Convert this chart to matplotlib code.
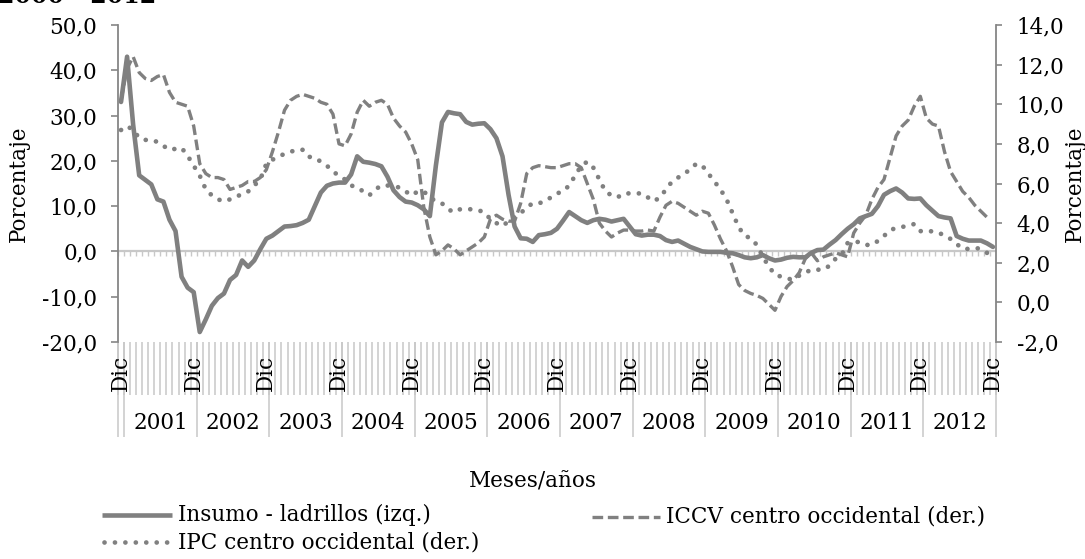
import numpy as np
import matplotlib
matplotlib.use('Agg')
import matplotlib.pyplot as plt
import matplotlib.transforms as mtransforms
from matplotlib.lines import Line2D
from matplotlib.ticker import FuncFormatter

plt.rcParams['font.family'] = ['DejaVu Serif']
FS = 15.5

# categorias: Dic 2000 y luego ene-dic 2001..2012
meses = ['Ene', 'Feb', 'Mar', 'Abr', 'May', 'Jun',
         'Jul', 'Ago', 'Sep', 'Oct', 'Nov', 'Dic']
anios = list(range(2001, 2013))
cat_mes = ['Dic'] + [m for a in anios for m in meses]

# Insumo - ladrillos (eje izq., %)
ladrillos = [33.0,
             43.0, 28.0, 16.8, 15.8, 14.8, 11.5, 11.0, 7.0, 4.5, -5.6, -8.0, -9.0,
             -17.8, -15.0, -12.0, -10.3, -9.3, -6.3, -5.2, -2.0, -3.4, -2.0, 0.5, 2.8,
             3.5, 4.5, 5.5, 5.6, 5.8, 6.3, 7.0, 10.0, 13.0, 14.5, 15.0, 15.2,
             15.2, 17.0, 21.0, 19.8, 19.6, 19.3, 18.8, 16.5, 13.5, 12.0, 11.0, 10.8,
             10.2, 9.3, 7.8, 19.0, 28.5, 30.8, 30.5, 30.3, 28.6, 28.0, 28.2, 28.3,
             27.0, 25.0, 21.0, 12.5, 5.5, 2.9, 2.8, 2.1, 3.6, 3.8, 4.1, 5.0,
             6.8, 8.7, 7.8, 6.9, 6.3, 6.9, 7.2, 7.0, 6.6, 6.9, 7.2, 5.5,
             3.8, 3.5, 3.7, 3.7, 3.4, 2.5, 2.1, 2.4, 1.7, 1.0, 0.5, 0.0,
             -0.1, -0.1, -0.1, -0.3, -0.4, -0.8, -1.3, -1.5, -1.3, -0.8, -1.5, -2.0,
             -1.8, -1.4, -1.2, -1.3, -1.3, -0.3, 0.3, 0.4, 1.5, 2.5, 3.8, 5.0,
             6.0, 7.3, 7.8, 8.3, 10.0, 12.5, 13.3, 13.9, 13.0, 11.7, 11.6, 11.7,
             10.2, 9.0, 7.8, 7.5, 7.3, 3.4, 2.8, 2.4, 2.4, 2.4, 1.8, 1.0]

# ICCV centro occidental (eje der., %)
iccv = [10.2,
        11.8, 12.4, 11.6, 11.3, 11.2, 11.4, 11.5, 10.6, 10.1, 10.0, 9.9, 8.9,
        7.0, 6.5, 6.3, 6.3, 6.2, 5.7, 5.8, 5.9, 6.1, 6.1, 6.3, 6.7,
        7.6, 8.6, 9.7, 10.2, 10.4, 10.5, 10.4, 10.3, 10.1, 10.0, 9.5, 8.0,
        7.9, 8.5, 9.6, 10.2, 9.9, 10.1, 10.2, 10.0, 9.3, 8.9, 8.6, 8.0,
        7.2, 4.8, 3.3, 2.4, 2.6, 2.9, 2.7, 2.4, 2.6, 2.8, 3.0, 3.3,
        4.2, 4.4, 4.2, 4.1, 4.1, 5.0, 6.5, 6.8, 6.9, 6.85, 6.8, 6.8,
        6.9, 7.0, 7.0, 6.8, 6.0, 5.2, 4.0, 3.6, 3.3, 3.5, 3.65, 3.65,
        3.6, 3.6, 3.65, 3.6, 4.3, 4.9, 5.1, 5.0, 4.8, 4.6, 4.4, 4.6,
        4.5, 3.9, 3.2, 2.6, 1.8, 0.9, 0.6, 0.45, 0.35, 0.2, -0.1, -0.4,
        0.3, 0.8, 1.1, 1.5, 2.2, 2.5, 2.1, 2.3, 2.4, 2.5, 2.4, 2.3,
        3.5, 4.0, 4.4, 5.2, 5.8, 6.2, 7.3, 8.4, 8.9, 9.2, 9.9, 10.4,
        9.3, 9.0, 8.9, 7.6, 6.6, 6.1, 5.6, 5.3, 4.9, 4.6, 4.3, np.nan]

# IPC centro occidental (eje der., %)
ipc = [8.7,
       8.9, 8.7, 8.3, 8.2, 8.2, 8.1, 7.9, 7.7, 7.75, 7.8, 7.4, 6.9,
       6.4, 5.7, 5.4, 5.2, 5.1, 5.2, 5.3, 5.5, 5.6, 5.9, 6.2, 7.0,
       7.2, 7.35, 7.5, 7.6, 7.7, 7.7, 7.35, 7.3, 7.1, 6.9, 6.6, 6.4,
       6.2, 5.9, 5.8, 5.6, 5.4, 5.7, 5.9, 5.9, 5.85, 5.8, 5.6, 5.4,
       5.6, 5.6, 5.3, 5.1, 5.0, 4.7, 4.55, 4.7, 4.7, 4.7, 4.65, 4.55,
       4.2, 4.0, 3.85, 4.1, 4.3, 4.5, 4.8, 5.0, 5.0, 5.1, 5.3, 5.5,
       5.6, 5.9, 6.4, 6.9, 7.1, 6.8, 6.2, 5.6, 5.4, 5.3, 5.5, 5.5,
       5.5, 5.5, 5.3, 5.1, 5.3, 5.7, 6.1, 6.3, 6.5, 6.7, 7.0, 6.9,
       6.5, 6.1, 5.7, 5.2, 4.5, 3.8, 3.35, 3.25, 2.9, 2.3, 1.8, 1.4,
       1.3, 1.2, 1.15, 1.35, 1.5, 1.65, 1.65, 1.65, 1.85, 2.2, 2.4, 3.0,
       3.05, 3.05, 2.9, 2.9, 3.1, 3.35, 3.65, 3.75, 3.8, 3.9, 3.95, 3.6,
       3.55, 3.6, 3.5, 3.4, 3.2, 2.95, 2.7, 2.7, 2.75, 2.7, 2.5, 2.4]

gris = '#808080'
eje = '#868686'
claro = '#c8c8c8'
W, H = 1085, 559
punteado = (0, (0.01, 2.2))

fig = plt.figure(figsize=(W / 100, H / 100), dpi=100)
ax = fig.add_axes([118 / W, 1 - 342 / H, (996 - 118) / W, (342 - 25) / H])
ax2 = ax.twinx()

x = np.arange(len(cat_mes))
lab = FuncFormatter(lambda v, p: f'{v:.1f}'.replace('.', ','))

ax.plot(x, ladrillos, color=gris, lw=3.3, solid_joinstyle='round',
        solid_capstyle='round', zorder=3)
ax2.plot(x, iccv, color=gris, lw=2.4, linestyle=(0, (3.2, 1.4)))
ax2.plot(x, ipc, color=gris, lw=3.4, linestyle=punteado,
         dash_capstyle='round')

ax.set_xlim(-0.5, len(x) - 0.5)
ax.set_ylim(-20, 50)
ax2.set_ylim(-2, 14)
ax.set_yticks(np.arange(-20, 51, 10))
ax2.set_yticks(np.arange(-2, 15, 2))
ax.yaxis.set_major_formatter(lab)
ax2.yaxis.set_major_formatter(lab)
ax.set_xticks([])
ax2.set_xticks([])

for s in ['top', 'bottom', 'right']:
    ax.spines[s].set_visible(False)
for s in ['top', 'bottom', 'left']:
    ax2.spines[s].set_visible(False)
ax.spines['left'].set_color(eje)
ax2.spines['right'].set_color(eje)
ax.spines['left'].set_linewidth(1.3)
ax2.spines['right'].set_linewidth(1.3)
ax.tick_params(axis='y', direction='out', length=5, width=1.2, color=eje,
               pad=10, labelsize=FS)
ax2.tick_params(axis='y', direction='out', length=4, width=1.2, color=eje,
                pad=11, labelsize=FS)

# eje de categorias cruzando en 0
bordes = np.arange(len(x) + 1) - 0.5
ax.axhline(0, color=claro, lw=1.6, zorder=1)
ax.vlines(bordes, -1.1, 0, color=claro, lw=1.0, zorder=1)

# etiquetas multinivel bajo el grafico
tr = mtransforms.blended_transform_factory(ax.transData, ax.transAxes)
ax.vlines(bordes, -0.167, 0, transform=tr, clip_on=False, color=claro, lw=1.1)
bordes_anio = [-0.5] + [0.5 + 12 * k for k in range(len(anios) + 1)]
ax.vlines(bordes_anio, -0.30, 0, transform=tr, clip_on=False, color=claro, lw=1.1)
for i, m in enumerate(cat_mes):
    if m == 'Dic':
        ax.text(i, -0.098, m, rotation=90, ha='center', va='center',
                transform=tr, fontsize=FS)
for k, a in enumerate(anios):
    ax.text(6.5 + 12 * k, -0.2555, str(a), ha='center', va='center',
            transform=tr, fontsize=FS)

fig.text(-2 / W, 1 - 3 / H, '2000 - 2012', fontsize=17, fontweight='bold',
         ha='left', va='baseline')
fig.text(533 / W, 1 - 482 / H, 'Meses/años', ha='center', va='center', fontsize=FS)
fig.text(19 / W, 1 - 184 / H, 'Porcentaje', rotation=90, ha='center',
         va='center', fontsize=FS)
fig.text(1075 / W, 1 - 184 / H, 'Porcentaje', rotation=90, ha='center',
         va='center', fontsize=FS)

# leyenda
items = [(102, 172, 178, 515, 'Insumo - ladrillos (izq.)',
          dict(lw=3.3, solid_capstyle='butt')),
         (592, 660, 666, 517, 'ICCV centro occidental (der.)',
          dict(lw=2.4, linestyle=(0, (3.2, 1.4)))),
         (104, 172, 178, 542, 'IPC centro occidental (der.)',
          dict(lw=3.4, linestyle=punteado, dash_capstyle='round'))]
for x0, x1, xt, y, txt, st in items:
    fig.add_artist(Line2D([x0 / W, x1 / W], [1 - y / H, 1 - y / H],
                          transform=fig.transFigure, color=gris, **st))
    fig.text(xt / W, 1 - y / H, txt, ha='left', va='center', fontsize=FS)

fig.savefig('out.png', dpi=100)
